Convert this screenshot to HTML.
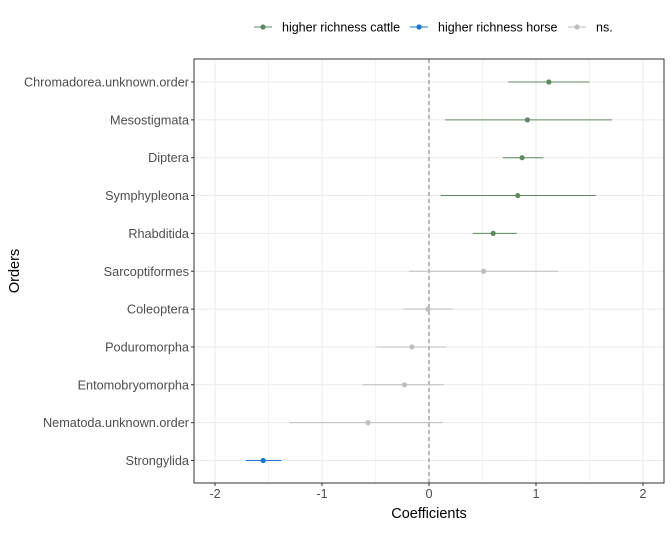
<!DOCTYPE html>
<html><head><meta charset="utf-8"><style>
body{margin:0;background:#fff;font-family:"Liberation Sans",sans-serif;}
svg text{font-family:"Liberation Sans",sans-serif;}
</style></head><body>
<svg id="c" width="672" height="528" xmlns="http://www.w3.org/2000/svg"></svg>
<script>
const categories=["Chromadorea.unknown.order","Mesostigmata","Diptera","Symphypleona","Rhabditida","Sarcoptiformes","Coleoptera","Poduromorpha","Entomobryomorpha","Nematoda.unknown.order","Strongylida"];
const estimates=[1.12,0.92,0.87,0.83,0.60,0.51,-0.01,-0.16,-0.23,-0.57,-1.55];
const lower=[0.74,0.15,0.69,0.11,0.41,-0.19,-0.24,-0.49,-0.62,-1.30,-1.71];
const upper=[1.50,1.71,1.07,1.56,0.82,1.21,0.22,0.16,0.14,0.13,-1.38];
const groups=["cattle","cattle","cattle","cattle","cattle","ns","ns","ns","ns","ns","horse"];
const xTicks=[-2,-1,0,1,2];
const colors={cattle:"#5e8a5e",horse:"#1874cd",ns:"#bebebe"};
const L=194,R=664,T=59,B=483;
const x=v=>429+v*107;
const y=i=>82+i*(460.5-82)/(categories.length-1);
const svg=document.getElementById('c');
const NS="http://www.w3.org/2000/svg";
function mk(t,a,p){const e=document.createElementNS(NS,t);for(const k in a)e.setAttribute(k,a[k]);(p||svg).appendChild(e);return e;}
for(let v=-2;v<=2;v+=0.5){const g=mk('line',{x1:x(v),x2:x(v),y1:T,y2:B,stroke:'#ebebeb','stroke-width':Number.isInteger(v)?1:0.6});
}
categories.forEach((c,i)=>{const g=mk('line',{x1:L,x2:R,y1:y(i),y2:y(i),stroke:'#ebebeb'});
});
const z=mk('line',{x1:x(0),x2:x(0),y1:T,y2:B,stroke:'#777','stroke-dasharray':'4,3'});

categories.forEach((c,i)=>{
const col=colors[groups[i]];
const l=mk('line',{x1:x(lower[i]),x2:x(upper[i]),y1:y(i),y2:y(i),stroke:col,'stroke-width':1});

const p=mk('circle',{cx:x(estimates[i]),cy:y(i),r:2.6,fill:col});

const tk=mk('line',{x1:L-3,x2:L,y1:y(i),y2:y(i),stroke:'#333'});

const t=mk('text',{x:L-5,y:y(i)+4.5,'text-anchor':'end','font-size':12.7,fill:'#4d4d4d'});t.textContent=c;

});
const fr=mk('rect',{x:L,y:T,width:R-L,height:B-T,fill:'none',stroke:'#333','stroke-width':1});

xTicks.forEach(v=>{const tk=mk('line',{x1:x(v),x2:x(v),y1:B,y2:B+3,stroke:'#333'});

const t=mk('text',{x:x(v),y:B+15,'text-anchor':'middle','font-size':12.7,fill:'#4d4d4d'});t.textContent=v;
});
const xt=mk('text',{x:429,y:518,'text-anchor':'middle','font-size':14.5,fill:'#000'});xt.textContent='Coefficients';

const yt=mk('text',{x:0,y:0,'text-anchor':'middle','font-size':14.5,fill:'#000',transform:'translate(19,271) rotate(-90)'});yt.textContent='Orders';

const leg=[["cattle","higher richness cattle",254],["horse","higher richness horse",410],["ns","ns.",568]];
leg.forEach(([k,lab,lx])=>{
const g=mk('g',{});
mk('line',{x1:lx,x2:lx+18,y1:27,y2:27,stroke:colors[k]},g);
mk('circle',{cx:lx+9,cy:27,r:2.6,fill:colors[k]},g);
const t=mk('text',{x:lx+28,y:31.5,'font-size':12.5,fill:'#000'},g);t.textContent=lab;});
</script>
</body></html>
